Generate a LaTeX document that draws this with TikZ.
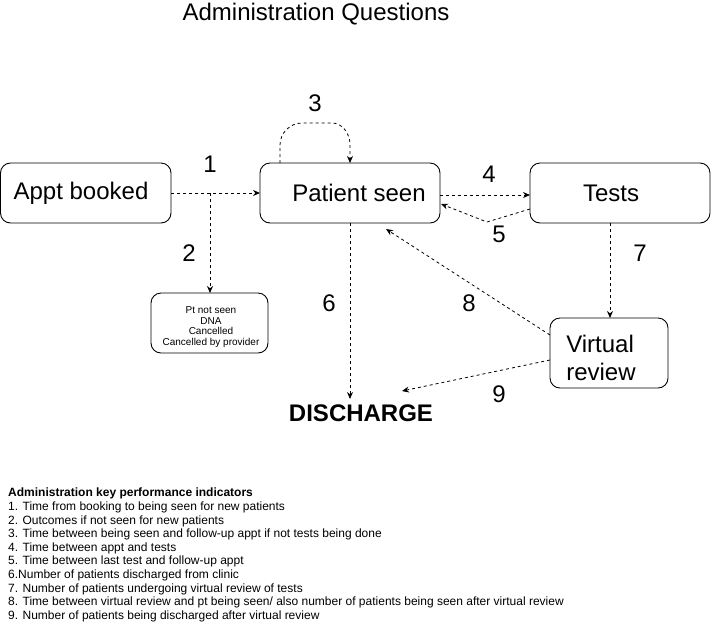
\documentclass[tikz,border=0pt]{standalone}
\usepackage{fontspec}
\setmainfont{Liberation Sans}
\usetikzlibrary{arrows.meta}
\begin{document}
\begin{tikzpicture}[x=1pt,y=-1pt,
  box/.style={draw,line width=0.9pt,rounded corners=10pt},
  conn/.style={draw,line width=0.8pt,dash pattern=on 3pt off 3pt,-{Stealth[length=7pt,width=6pt]}},
  big/.style={font=\fontsize{24}{28}\selectfont},
  num/.style={font=\fontsize{24}{28}\selectfont},
  lbl/.style={inner sep=0pt}]
\useasboundingbox (0,0) rectangle (711,622);
% title
\node[big,lbl] (title) at (316,14) {Administration Questions};
% boxes
\draw[box] (0.5,163) rectangle (171,223);
\node[big,lbl] (apptt) at (81,193) {Appt booked};
\coordinate (apptR) at (171,193);
\draw[box] (260,163) rectangle (440,223);
\node[big,lbl] (seent) at (359,193) {Patient seen};
\draw[box] (530,163) rectangle (710,223);
\node[big,lbl] (testst) at (611,193) {Tests};
\draw[box] (151,293) rectangle (268,353);
\node[lbl,align=center,font=\fontsize{10}{10.6}\selectfont] (notseen) at (211,327) {Pt not seen\\DNA\\Cancelled\\Cancelled by provider};
\draw[box] (550,318) rectangle (668,388);
\node[lbl,align=left,font=\fontsize{24}{28}\selectfont] (vrt) at (601,358) {Virtual\\review};
\node[lbl,font=\bfseries\fontsize{24}{28}\selectfont] (dis) at (361,413) {DISCHARGE};
% coordinates
\coordinate (seenL) at (260,193);
\coordinate (split) at (210,193);
\coordinate (nsTop) at (210,293);
\coordinate (seenR) at (440,195);
\coordinate (testsL) at (530,195);
\coordinate (testsL2) at (530,209);
\coordinate (mid5) at (487,222);
\coordinate (seenR2) at (441,204);
\coordinate (seenB) at (350,223);
\coordinate (disT) at (350,399);
\coordinate (testsB) at (610,223);
\coordinate (vrT) at (610,318);
\coordinate (vrL1) at (550,335);
\coordinate (seenBR) at (386,229);
\coordinate (vrL2) at (550,360);
\coordinate (disR) at (402,391);
\coordinate (loopS) at (280,163);
\coordinate (loopE) at (350,163);
% connectors
\draw[conn] (apptR) -- (seenL);
\draw[conn] (split) -- (nsTop);
\draw[conn] (loopS) -- (280,145) .. controls (280,133) and (290,123) .. (302,123) -- (332,123) .. controls (342,123) and (350,133) .. (350,145) -- (loopE);
\draw[conn] (seenR) -- (testsL);
\draw[conn] (testsL2) -- (mid5) -- (seenR2);
\draw[conn] (seenB) -- (disT);
\draw[conn] (testsB) -- (vrT);
\draw[conn] (vrL1) -- (seenBR);
\draw[conn] (vrL2) -- (disR);
% numbers
\node[num,lbl] (n1) at (210,164) {1};
\node[num,lbl] (n2) at (189,253) {2};
\node[num,lbl] (n3) at (315,103) {3};
\node[num,lbl] (n4) at (489,174) {4};
\node[num,lbl] (n5) at (499,234) {5};
\node[num,lbl] (n6) at (329,303) {6};
\node[num,lbl] (n7) at (640,253) {7};
\node[num,lbl] (n8) at (469,303) {8};
\node[num,lbl] (n9) at (499,394) {9};
% legend
\node[anchor=north west,inner sep=0pt,align=left,font=\fontsize{12}{13.6}\selectfont] (legend) at (8,488) {\textbf{Administration key performance indicators}\\
1. Time from booking to being seen for new patients\\
2. Outcomes if not seen for new patients\\
3. Time between being seen and follow-up appt if not tests being done\\
4. Time between appt and tests\\
5. Time between last test and follow-up appt\\
6.Number of patients discharged from clinic\\
7. Number of patients undergoing virtual review of tests\\
8. Time between virtual review and pt being seen/ also number of patients being seen after virtual review\\
9. Number of patients being discharged after virtual review};
\end{tikzpicture}
\end{document}
